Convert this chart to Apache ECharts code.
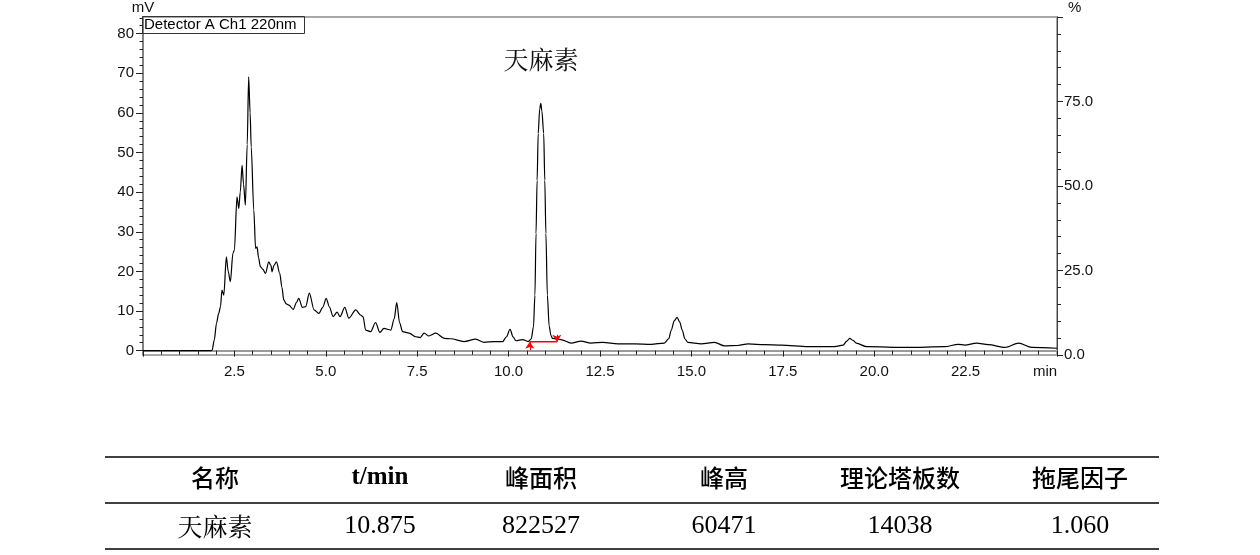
<!DOCTYPE html>
<html>
<head>
<meta charset="utf-8">
<script src="https://cdn.jsdelivr.net/npm/echarts@6/dist/echarts.min.js"></script>
<style>
html,body{margin:0;padding:0;background:#fff;}
#main{width:1260px;height:555px;}
</style>
</head>
<body>
<div id="main"></div>
<script>
// ---- chromatogram (time in min, signal in mV) ----
var times = [0.0, 1.85, 1.89, 1.95, 2.01, 2.07, 2.12, 2.16, 2.21, 2.28, 2.33, 2.39, 2.46, 2.50, 2.57, 2.62, 2.66, 2.71, 2.75, 2.80, 2.85, 2.89, 2.93, 2.96, 3.03, 3.08, 3.12, 3.16, 3.21, 3.28, 3.35, 3.44, 3.50, 3.53, 3.58, 3.65, 3.74, 3.80, 3.85, 3.92, 3.99, 4.11, 4.20, 4.26, 4.36, 4.45, 4.55, 4.68, 4.81, 4.92, 5.01, 5.10, 5.20, 5.31, 5.39, 5.52, 5.63, 5.82, 5.95, 6.02, 6.09, 6.23, 6.36, 6.48, 6.59, 6.78, 6.87, 6.94, 7.02, 7.10, 7.28, 7.46, 7.58, 7.69, 7.82, 8.01, 8.24, 8.42, 8.78, 9.10, 9.33, 9.60, 9.84, 9.94, 10.04, 10.12, 10.20, 10.38, 10.54, 10.62, 10.68, 10.72, 10.75, 10.78, 10.81, 10.85, 10.88, 10.91, 10.96, 10.99, 11.02, 11.06, 11.11, 11.16, 11.20, 11.43, 11.71, 11.98, 12.25, 12.58, 12.99, 13.45, 13.90, 14.26, 14.38, 14.45, 14.53, 14.61, 14.68, 14.75, 14.82, 14.90, 15.27, 15.63, 15.91, 16.27, 16.55, 17.00, 17.46, 18.19, 18.92, 19.15, 19.25, 19.33, 19.42, 19.51, 19.79, 20.93, 21.93, 22.30, 22.48, 22.80, 23.12, 23.58, 23.95, 24.31, 25.0];
var signal = [0, 0, 0.1, 2.7, 6.9, 9.4, 11.1, 15.3, 14.0, 23.7, 20.0, 17.4, 24.6, 25.4, 38.8, 35.9, 40.0, 46.8, 42.0, 36.7, 52.0, 69.1, 60.0, 51.4, 35.5, 25.8, 26.2, 23.5, 21.2, 20.5, 19.5, 22.4, 21.5, 19.9, 21.5, 22.4, 19.5, 16.0, 12.8, 11.8, 11.5, 10.4, 12.2, 13.2, 10.9, 11.1, 14.5, 10.3, 9.4, 11.0, 13.2, 11.0, 8.6, 9.7, 8.6, 10.9, 8.2, 10.3, 9.0, 8.5, 5.2, 4.8, 7.1, 4.6, 5.6, 5.2, 8.0, 12.1, 7.0, 4.8, 4.4, 3.5, 3.3, 4.4, 3.7, 4.4, 3.1, 3.0, 2.3, 2.9, 2.1, 2.3, 2.3, 3.5, 5.4, 3.5, 2.5, 2.8, 2.3, 3.0, 6.0, 14.0, 29.6, 43.0, 54.8, 61.0, 62.4, 60.5, 54.8, 43.0, 29.6, 14.0, 6.1, 3.8, 3.1, 2.8, 1.9, 2.4, 1.9, 2.1, 1.7, 1.7, 1.6, 1.9, 3.0, 5.2, 7.5, 8.4, 7.2, 5.2, 3.0, 2.1, 1.7, 2.1, 1.2, 1.3, 1.7, 1.5, 1.4, 1.0, 1.0, 1.4, 2.4, 3.1, 2.6, 1.9, 1.0, 0.8, 1.0, 1.6, 1.4, 1.9, 1.5, 0.8, 1.9, 0.8, 0.6];

// integration baseline of the main peak
var baseTimes = [10.58, 11.32];
var baseLevel = 2.25;
var arrowStart = [0.1, 4.0];

// axis ticks
var leftMajor = [0, 10, 20, 30, 40, 50, 60, 70, 80];
var leftMinor = [0, 2, 4, 6, 8, 10, 12, 14, 16, 18, 20, 22, 24, 26, 28, 30, 32, 34, 36, 38, 40, 42, 44, 46, 48, 50, 52, 54, 56, 58, 60, 62, 64, 66, 68, 70, 72, 74, 76, 78, 80, 82, 84];

// texts
var legendText = 'Detector A Ch1 220nm';
var peakName = '天麻素';
var tableHeaders = ['名称', 't/min', '峰面积', '峰高', '理论塔板数', '拖尾因子'];
var tableRow = ['天麻素', '10.875', '822527', '60471', '14038', '1.060'];

var data = times.map(function (t, i) { return [t, signal[i]]; });
var baseData = baseTimes.map(function (t) { return [t, baseLevel]; });

var colX = [215, 380, 541, 724, 900, 1080];
var graphics = [];
[457, 503, 549].forEach(function (y) {
  graphics.push({ type: 'line', shape: { x1: 105, y1: y, x2: 1159, y2: y }, style: { stroke: '#000', lineWidth: 1.6 } });
});
tableHeaders.forEach(function (h, i) {
  var latin = /^[\x00-\x7f]+$/.test(h);
  graphics.push({ type: 'text', x: colX[i], y: 478, style: {
    text: h, align: 'center', verticalAlign: 'middle', fill: '#000',
    font: latin ? 'bold 25px "Liberation Serif", serif' : '500 24px "Noto Sans CJK SC", sans-serif'
  }});
});
tableRow.forEach(function (h, i) {
  var latin = /^[\x00-\x7f]+$/.test(h);
  graphics.push({ type: 'text', x: colX[i], y: 526, style: {
    text: h, align: 'center', verticalAlign: 'middle', fill: '#000',
    font: latin ? '26px "Liberation Serif", serif' : '25px "Noto Serif CJK SC", "Noto Sans CJK SC", serif'
  }});
});
graphics.push({ type: 'text', x: 541, y: 59, style: {
  text: peakName, align: 'center', verticalAlign: 'middle', fill: '#111',
  font: '25px "Noto Serif CJK SC", "Noto Sans CJK SC", serif'
}});

var chart = echarts.init(document.getElementById('main'), null, { renderer: 'canvas' });
var labelFont = { fontFamily: '"Liberation Sans", Arial, sans-serif', fontSize: 15, color: '#111' };

chart.setOption({
  animation: false,
  backgroundColor: '#fff',
  title: {
    text: legendText, left: 142, top: 16,
    padding: [1, 8, 1, 2], borderColor: '#333', borderWidth: 1,
    textStyle: { fontFamily: '"Liberation Sans", Arial, sans-serif', fontSize: 15, fontWeight: 'normal', color: '#000', lineHeight: 16 }
  },
  grid: { left: 143, right: 203, top: 17, bottom: 200, show: true, borderColor: '#a8a8a8', borderWidth: 2, containLabel: false },
  xAxis: {
    type: 'value', min: 0, max: 25, interval: 2.5,
    axisLine: { show: true, lineStyle: { color: '#9a9a9a', width: 2 } },
    axisTick: { show: true, length: 6, lineStyle: { color: '#222' } },
    minorTick: { show: true, splitNumber: 5, length: 4, lineStyle: { color: '#222' } },
    splitLine: { show: false },
    axisLabel: Object.assign({}, labelFont, {
      margin: 9,
      formatter: function (v) { if (v === 0) return ''; if (v === 25) return '{m|min}'; return v.toFixed(1); },
      rich: { m: Object.assign({}, labelFont, { padding: [0, 24, 0, 0] }) }
    })
  },
  yAxis: [
    {
      type: 'value', min: -1.1, max: 84.2, position: 'left',
      name: 'mV', nameLocation: 'end', nameGap: 2,
      nameTextStyle: Object.assign({}, labelFont, { align: 'center' }),
      axisLine: { show: true, lineStyle: { color: '#777', width: 1.5 } },
      axisTick: { show: true, length: 7, customValues: leftMajor, lineStyle: { color: '#222' } },
      axisLabel: Object.assign({}, labelFont, { margin: 9, customValues: leftMajor }),
      splitLine: { show: false }
    },
    {
      type: 'value', min: -1.1, max: 84.2, position: 'left', offset: 0,
      axisLine: { show: false },
      axisTick: { show: true, length: 3.5, customValues: leftMinor, lineStyle: { color: '#222' } },
      axisLabel: { show: false },
      splitLine: { show: false }
    },
    {
      type: 'value', min: 0, max: 100, interval: 25, position: 'right',
      name: '%', nameLocation: 'end', nameGap: 2,
      nameTextStyle: Object.assign({}, labelFont, { align: 'left', padding: [0, 0, 0, 11] }),
      axisLine: { show: true, lineStyle: { color: '#444', width: 1 } },
      axisTick: { show: true, length: 6, lineStyle: { color: '#222' } },
      minorTick: { show: true, splitNumber: 5, length: 4, lineStyle: { color: '#222' } },
      axisLabel: Object.assign({}, labelFont, { margin: 7, formatter: function (v) { return v === 100 ? '' : v.toFixed(1); } }),
      splitLine: { show: false }
    }
  ],
  series: [
    {
      type: 'line', yAxisIndex: 0, data: data, showSymbol: false,
      smooth: 0.3, smoothMonotone: 'x',
      lineStyle: { color: '#000', width: 1.2 }, silent: true
    },
    {
      type: 'line', yAxisIndex: 0, data: baseData, showSymbol: false,
      lineStyle: { color: '#ff0000', width: 1.5 }, silent: true,
      markLine: {
        silent: true, symbol: ['none', 'arrow'], symbolSize: 7,
        label: { show: false },
        lineStyle: { color: '#ff0000', width: 1, type: 'solid' },
        data: baseTimes.map(function (t, i) {
          return [{ coord: [t, arrowStart[i]] }, { coord: [t, baseLevel] }];
        })
      }
    }
  ],
  graphic: graphics
});
</script>
</body>
</html>
